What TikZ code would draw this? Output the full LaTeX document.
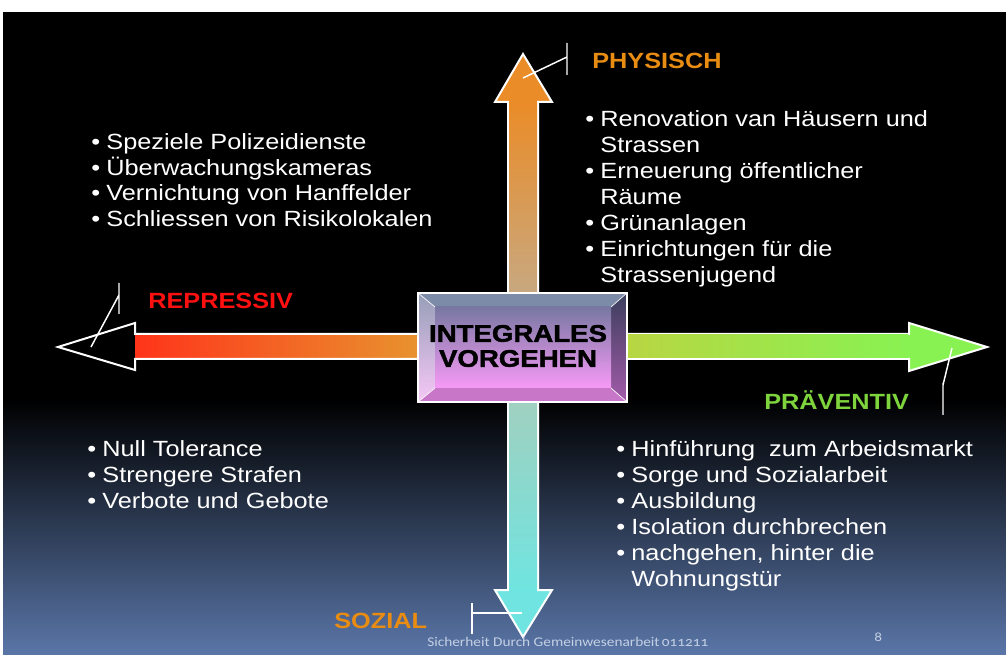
\documentclass[tikz,border=0pt]{standalone}
\usepackage{fontspec}
\setmainfont{Liberation Sans}[FakeStretch=1.15]
\newfontfamily\heavyfont{Liberation Sans}[FakeStretch=1.15, BoldFeatures={FakeBold=2}]
\newfontfamily\footfont{Carlito}[FakeStretch=1.15,Numbers=OldStyle]
\usetikzlibrary{positioning,calc}
\definecolor{physorange}{RGB}{232,140,18}
\definecolor{represred}{RGB}{255,16,16}
\definecolor{praevgreen}{RGB}{126,212,60}
\definecolor{slidebottom}{RGB}{90,118,168}
\definecolor{footgrey}{RGB}{196,208,228}
\tikzset{%
  every item/.style={
    anchor=base west,
    inner sep=0pt,
    text=white,
    font=\fontsize{16.5}{19.5}\selectfont
  },
  item b/.style={execute at begin node={•\hspace{4.7pt}}},
  item c/.style={execute at begin node={\phantom{•\hspace{4.7pt}}}},
  axis label/.style={
    anchor=base west,
    inner sep=0pt,
    font=\fontsize{16.5}{19.5}\selectfont\bfseries
  },
  arm/.style={white, line width=1.5pt, line join=miter},
  callout/.style={white, line width=1.1pt},
}

\begin{document}
\begin{tikzpicture}[x=0.75pt, y=-0.75pt]
  \useasboundingbox (0,0) rectangle (1006,655);
  % slide background
  \fill[white] (0,0) rectangle (1006,655);
  \fill[black] (3,12) rectangle (1006,402);
  \shade[top color=black, bottom color=slidebottom] (3,400) rectangle (1006,655);

  % the four arms
  \shade[left color={rgb,255:red,255;green,52;blue,26}, right color={rgb,255:red,232;green,146;blue,46}] (135,334) rectangle (418,359);
  \draw[arm] (418,334) -- (135,334) -- (135,323) -- (58,347) -- (135,370) -- (135,359) -- (418,359);
  \filldraw[arm, fill={rgb,255:red,136;green,242;blue,82}] (627,334) -- (909,334) -- (909,323) -- (987,347) -- (909,371) -- (909,359) -- (627,359);
  \shade[left color={rgb,255:red,184;green,214;blue,66}, right color={rgb,255:red,136;green,242;blue,82}] (627,335) rectangle (908,358);
  \filldraw[arm, fill={rgb,255:red,234;green,140;blue,40}] (508,293) -- (508,102) -- (495,102) -- (523,54) -- (552,102) -- (538,102) -- (538,293);
  \shade[top color={rgb,255:red,234;green,140;blue,40}, bottom color={rgb,255:red,200;green,168;blue,128}] (509,103) rectangle (537,293);
  \filldraw[arm, fill={rgb,255:red,112;green,228;blue,224}] (508,402) -- (508,590) -- (495,590) -- (523,637) -- (552,590) -- (538,590) -- (538,402);
  \shade[top color={rgb,255:red,160;green,208;blue,192}, bottom color={rgb,255:red,112;green,228;blue,224}] (509,402) rectangle (537,589);

  % bevelled box in the middle
  \node[minimum width=156.75pt, minimum height=81.75pt, inner sep=0pt] (core) at (522.5,347.5) {};
  \coordinate (in-nw) at (435,307);
  \coordinate (in-ne) at (611,307);
  \coordinate (in-se) at (611,388);
  \coordinate (in-sw) at (435,388);
  \fill[fill={rgb,255:red,124;green,140;blue,168}] (core.north west) -- (core.north east) -- (in-ne) -- (in-nw) -- cycle;
  \shade[top color={rgb,255:red,150;green,158;blue,184}, bottom color={rgb,255:red,246;green,200;blue,246}] (core.north west) -- (in-nw) -- (in-sw) -- (core.south west) -- cycle;
  \shade[top color={rgb,255:red,58;green,62;blue,92}, bottom color={rgb,255:red,164;green,92;blue,170}] (core.north east) -- (in-ne) -- (in-se) -- (core.south east) -- cycle;
  \fill[fill={rgb,255:red,200;green,118;blue,200}] (core.south west) -- (in-sw) -- (in-se) -- (core.south east) -- cycle;
  \shade[top color={rgb,255:red,120;green,120;blue,162}, bottom color={rgb,255:red,246;green,154;blue,246}] (in-nw) rectangle (in-se);
  \draw[white, line width=0.5pt] (core.north west) -- (in-nw) (core.north east) -- (in-ne)
    (core.south east) -- (in-se) (core.south west) -- (in-sw);
  \draw[white, line width=1.5pt] (core.north west) rectangle (core.south east);
  \node[align=center, inner sep=0pt, font=\heavyfont\bfseries\fontsize{18}{18.75}\selectfont] (core-label) at (518,346) {INTEGRALES\\VORGEHEN};

  % axis labels and their callouts
  \node[axis label, text=physorange] (physisch) at (592,69) {PHYSISCH};
  \node[axis label, text=represred] (repressiv) at (148,309) {REPRESSIV};
  \node[axis label, text=praevgreen] (praeventiv) at (764,410) {PRÄVENTIV};
  \node[axis label, text=physorange] (sozial) at (334,628) {SOZIAL};
  \coordinate (up-hook) at (523,78);
  \coordinate (up-bar) at (567,57);
  \draw[callout] (up-hook) -- (up-bar) (567,43) -- (567,75);
  \coordinate (left-hook) at (91,347);
  \coordinate (left-bar) at (119,295);
  \draw[callout] (left-hook) -- (left-bar) (119,283) -- (119,314);
  \coordinate (right-hook) at (952,348);
  \coordinate (right-bar) at (943,385);
  \draw[callout] (right-hook) -- (right-bar) (943,383) -- (943,415);
  \coordinate (down-hook) at (522,613);
  \coordinate (down-bar) at (472,613);
  \draw[callout] (down-hook) -- (down-bar) (472,603) -- (472,634);

  % bullet lists
  \foreach \m/\t [count=\i] in {b/Speziele Polizeidienste, b/Überwachungskameras,
      b/Vernichtung von Hanffelder, b/Schliessen von Risikolokalen}
    \node [every item/.try, item \m/.try] (repr-\i) at (91,149.5+25.7*\i-25.7) {\t};
  \foreach \m/\t [count=\i] in {b/Renovation van Häusern und, c/Strassen,
      b/Erneuerung öffentlicher, c/Räume, b/Grünanlagen,
      b/Einrichtungen für die, c/Strassenjugend}
    \node [every item/.try, item \m/.try] (phys-\i) at (585,127+26*\i-26) {\t};
  \foreach \m/\t [count=\i] in {b/Null Tolerance, b/Strengere Strafen, b/Verbote und Gebote}
    \node [every item/.try, item \m/.try] (soz-\i) at (87,456+26*\i-26) {\t};
  \foreach \m/\t [count=\i] in {b/Hinführung\ \ zum Arbeidsmarkt, b/Sorge und Sozialarbeit,
      b/Ausbildung, b/Isolation durchbrechen, b/{nachgehen, hinter die}, c/Wohnungstür}
    \node [every item/.try, item \m/.try] (praev-\i) at (616,456+26*\i-26) {\t};

  % footer
  \node[anchor=base west, inner sep=0pt, text=footgrey, font=\footfont\fontsize{10}{12}\selectfont] (footer) at (427,646) {Sicherheit Durch Gemeinwesenarbeit\,011211};
  \node[anchor=base west, inner sep=0pt, text=footgrey, font=\footfont\fontsize{10}{12}\selectfont] (page) at (874,641) {8};
\end{tikzpicture}
\end{document}
